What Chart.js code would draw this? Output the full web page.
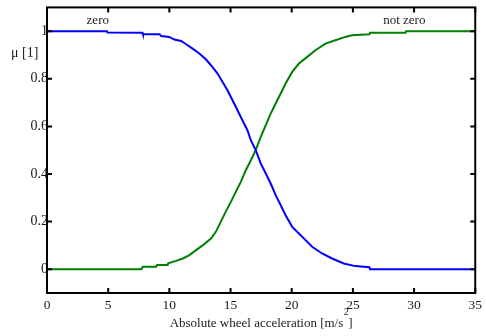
<!DOCTYPE html>
<html>
<head>
<meta charset="utf-8">
<script src="https://cdn.jsdelivr.net/npm/chart.js@4/dist/chart.umd.min.js"></script>
<style>
  html, body { margin: 0; padding: 0; background: #fff; }
  #wrap { width: 486px; height: 336px; }
</style>
</head>
<body>
<div id="wrap"><canvas id="c" width="486" height="336"></canvas></div>
<script>
// Membership of the absolute wheel acceleration in the fuzzy sets "zero" / "not zero"
const zeroAccel = [0, 4.9, 4.95, 7.8, 7.84, 9.2, 9.33, 10.0, 10.4, 10.96, 11.37, 11.9, 12.45, 13.0, 13.4, 13.94,
  14.35, 14.75, 15.16, 15.57, 15.97, 16.38, 16.66, 17.06, 17.47, 17.88, 18.28, 18.69, 19.1, 19.5, 20.04,
  20.59, 21.13, 21.67, 22.48, 23.3, 24.25, 25.2, 26.35, 26.4, 35];
const zeroMu = [1.0, 1.0, 0.994, 0.993, 0.987, 0.987, 0.98, 0.976, 0.965, 0.959, 0.945, 0.927, 0.906, 0.881, 0.857, 0.822,
  0.787, 0.752, 0.71, 0.668, 0.626, 0.584, 0.542, 0.5, 0.444, 0.402, 0.36, 0.311, 0.269, 0.227, 0.178,
  0.15, 0.122, 0.094, 0.066, 0.045, 0.024, 0.013, 0.008, 0.0, 0.0];

const notZeroAccel = [0, 7.7, 7.84, 8.92, 9.0, 9.87, 9.9, 10.55, 11.1, 11.64, 12.18, 12.72, 13.4, 13.8, 14.2, 14.6,
  15.03, 15.43, 15.84, 16.25, 16.66, 17.06, 17.47, 17.88, 18.28, 18.69, 19.1, 19.5, 20.04, 20.59, 21.27,
  21.94, 22.76, 23.57, 24.38, 24.92, 26.35, 26.4, 29.3, 29.35, 35];
const notZeroMu = [0, 0, 0.01, 0.01, 0.018, 0.018, 0.025, 0.035, 0.045, 0.059, 0.08, 0.1, 0.129, 0.157, 0.199, 0.241,
  0.283, 0.325, 0.367, 0.416, 0.458, 0.5, 0.556, 0.605, 0.654, 0.696, 0.738, 0.78, 0.829, 0.864, 0.892,
  0.92, 0.948, 0.962, 0.976, 0.983, 0.987, 0.994, 0.994, 1.0, 1.0];

const xTicks = [0, 5, 10, 15, 20, 25, 30, 35];
const yTicks = [0, 0.2, 0.4, 0.6, 0.8, 1];
const yTickLabels = ['0', '0.2', '0.4', '0.6', '0.8', '1'];

// set names written inside the plot, placed at [acceleration, membership]
const setNames = ['zero', 'not zero'];
const setNamePos = [[4.15, 1.048], [29.2, 1.048]];

const FONT = '"Liberation Serif", "Times New Roman", serif';
const TEXT = '#1a1a1a';

const toPoints = (xs, ys) => xs.map((x, i) => ({ x: x, y: ys[i] }));

// frame, inward tick marks, axis captions and set names
const decor = {
  id: 'decor',
  afterDatasetsDraw(chart) {
    const { ctx, chartArea: a, scales } = chart;
    const xs = scales.x, ys = scales.y;
    const tl = 5;
    ctx.save();
    ctx.strokeStyle = '#000';
    ctx.lineWidth = 2;
    ctx.lineCap = 'butt';
    ctx.beginPath();
    xTicks.forEach(v => {
      const px = xs.getPixelForValue(v);
      ctx.moveTo(px, a.bottom); ctx.lineTo(px, a.bottom - tl);
      ctx.moveTo(px, a.top); ctx.lineTo(px, a.top + tl);
    });
    yTicks.forEach(v => {
      const py = ys.getPixelForValue(v);
      ctx.moveTo(a.left, py); ctx.lineTo(a.left + tl, py);
      ctx.moveTo(a.right, py); ctx.lineTo(a.right - tl, py);
    });
    ctx.stroke();
    ctx.strokeRect(a.left, a.top, a.right - a.left, a.bottom - a.top);

    ctx.fillStyle = TEXT;
    ctx.font = '13px ' + FONT;
    ctx.textBaseline = 'alphabetic';

    // set names
    ctx.textAlign = 'center';
    setNames.forEach((t, i) => {
      ctx.fillText(t, xs.getPixelForValue(setNamePos[i][0]), ys.getPixelForValue(setNamePos[i][1]) + 4);
    });

    // y caption, horizontal
    ctx.textAlign = 'left';
    ctx.font = '14px ' + FONT;
    ctx.fillText('\u03bc [1]', 11, 57);

    // x caption with superscript
    const main = 'Absolute wheel acceleration [m/s';
    const sup = '2';
    const close = ']';
    ctx.font = '13px ' + FONT;
    const wMain = ctx.measureText(main).width;
    const wClose = ctx.measureText(close).width;
    ctx.font = '10px ' + FONT;
    const wSup = ctx.measureText(sup).width;
    const total = wMain + wSup + wClose;
    let x0 = (a.left + a.right) / 2 - total / 2;
    const base = 327;
    ctx.font = '13px ' + FONT;
    ctx.fillText(main, x0, base);
    ctx.font = '10px ' + FONT;
    ctx.fillText(sup, x0 + wMain + 0.5, base - 12);
    ctx.font = '13px ' + FONT;
    ctx.fillText(close, x0 + wMain + wSup, base);
    ctx.restore();
  }
};

new Chart(document.getElementById('c'), {
  type: 'line',
  data: {
    datasets: [
      {
        label: 'zero',
        data: toPoints(zeroAccel, zeroMu),
        borderColor: '#0000ff',
        borderWidth: 2,
        pointRadius: 0,
        tension: 0,
        fill: false
      },
      {
        label: 'not zero',
        data: toPoints(notZeroAccel, notZeroMu),
        borderColor: '#008000',
        borderWidth: 2,
        pointRadius: 0,
        tension: 0,
        fill: false
      }
    ]
  },
  options: {
    responsive: false,
    animation: false,
    events: [],
    layout: { padding: { left: 0, top: 6, right: 9, bottom: 0 } },
    plugins: { legend: { display: false }, tooltip: { enabled: false }, title: { display: false } },
    scales: {
      x: {
        type: 'linear',
        min: 0, max: 35,
        afterBuildTicks: s => { s.ticks = xTicks.map(v => ({ value: v })); },
        afterFit: s => { s.height = 43; },
        grid: { display: false, drawTicks: false },
        border: { display: false },
        ticks: {
          maxRotation: 0,
          padding: 4,
          color: TEXT,
          font: { family: FONT, size: 13.5 },
          callback: v => String(v)
        }
      },
      y: {
        type: 'linear',
        min: -0.1, max: 1.1,
        afterBuildTicks: s => { s.ticks = yTicks.map(v => ({ value: v })); },
        afterFit: s => { s.width = 47; },
        grid: { display: false, drawTicks: false },
        border: { display: false },
        ticks: {
          padding: -1,
          color: TEXT,
          font: { family: FONT, size: 14 },
          callback: v => yTickLabels[yTicks.findIndex(t => Math.abs(t - v) < 1e-9)]
        }
      }
    }
  },
  plugins: [decor]
});
</script>
</body>
</html>
